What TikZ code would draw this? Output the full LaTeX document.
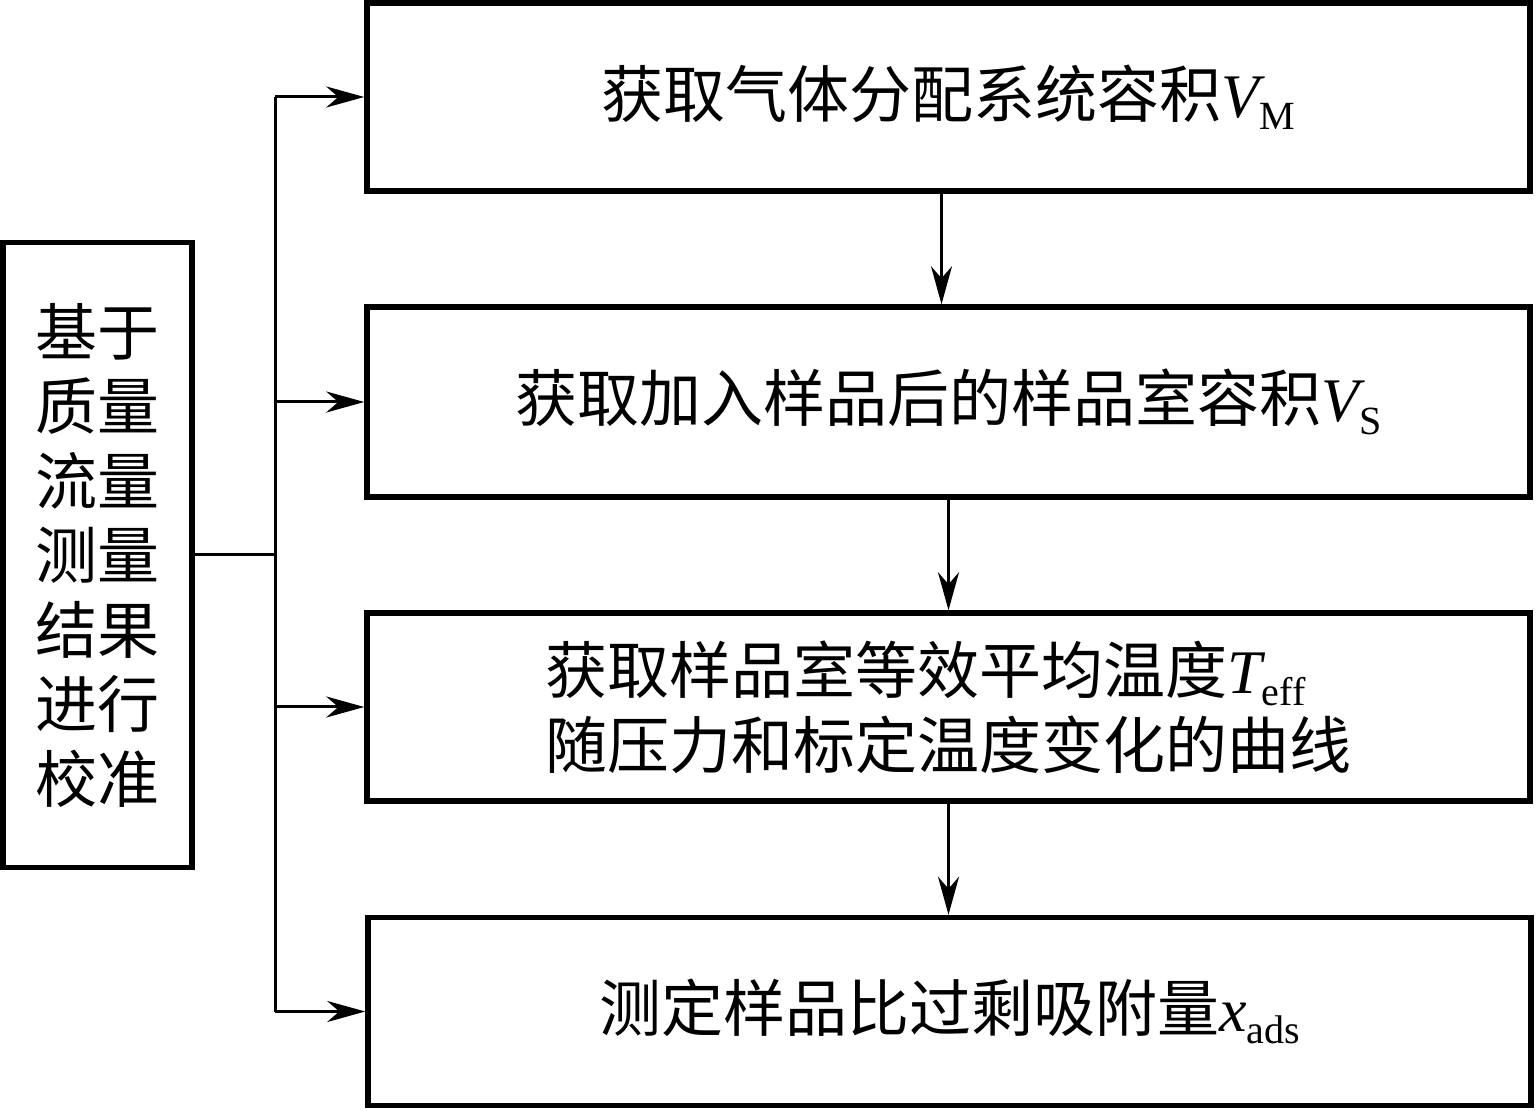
\documentclass[tikz,border=0pt]{standalone}
\usepackage{fontspec}
\setmainfont{Liberation Serif}
\newfontfamily\cjk{Noto Sans CJK SC}
\usetikzlibrary{arrows.meta}
\newcommand{\lowidx}[1]{\raisebox{-0.2em}{\rmfamily\upshape\fontsize{20}{20}\selectfont #1}}
\newcommand{\symsub}[2]{{\rmfamily\itshape #1}\lowidx{#2}}
\begin{document}
\begin{tikzpicture}[x=0.5pt, y=-0.5pt, line join=miter,
	>={Stealth[length=19pt,width=10.5pt,inset=6pt]},
	box/.style={draw, line width=2.75pt, inner sep=0pt, minimum width=581.5pt, minimum height=94pt, font=\fontsize{31}{37.5}\selectfont\cjk},
	link/.style={line width=1.5pt}]
	\useasboundingbox (0,0) rectangle (1537,1111);
	\node[box, minimum width=94.5pt, minimum height=312.5pt, align=center, font=\fontsize{31}{37.25}\selectfont\cjk] (calib) at (97.5,555) {基于\\质量\\流量\\测量\\结果\\进行\\校准};
	\node[box] (vm) at (948.5,97) {获取气体分配系统容积\symsub{V}{M}};
	\node[box, minimum height=95pt] (vs) at (948.5,402) {获取加入样品后的样品室容积\symsub{V}{S}};
	\node[box, align=left] (teff) at (948.5,707) {获取样品室等效平均温度\symsub{T}{eff}\\随压力和标定温度变化的曲线};
	\node[box] (xads) at (949.5,1011.5) {测定样品比过剩吸附量\symsub{x}{ads}};
	\coordinate (trunk) at (275,555);
	
	\draw[link] (calib.east |- trunk) -- (trunk);
	\draw[link] (trunk |- vm) -- (trunk |- xads);
	\draw[link,->] (trunk |- vm) -- (vm.west);
	\draw[link,->] (trunk |- vs) -- (vs.west);
	\draw[link,->] (trunk |- teff) -- (teff.west);
	\draw[link,->] (trunk |- xads) -- (xads.west);
	\draw[link,->] ([xshift=-3.5pt]vm.south) -- ([xshift=-3.5pt]vs.north);
	\draw[link,->] (vs) -- (teff);
	\draw[link,->] (teff) -- (xads.north -| teff);
\end{tikzpicture}
\end{document}
